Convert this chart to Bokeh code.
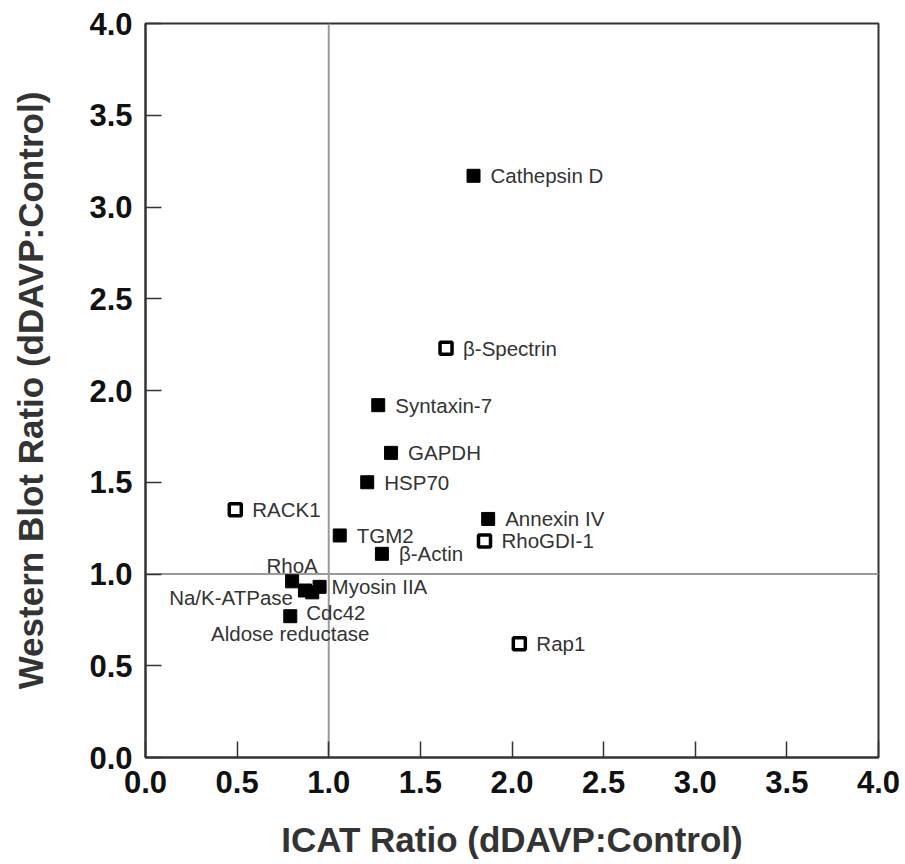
from bokeh.plotting import figure
from bokeh.models import ColumnDataSource, Range1d, FixedTicker, PrintfTickFormatter, Span
from bokeh.core.properties import value
from bokeh.embed import file_html
from bokeh.resources import INLINE

# ---- data ----
proteins = ["Cathepsin D", "β-Spectrin", "Syntaxin-7", "GAPDH", "HSP70", "RACK1",
            "TGM2", "β-Actin", "Annexin IV", "RhoGDI-1", "Rap1", "RhoA",
            "Na/K-ATPase", "Cdc42", "Myosin IIA", "Aldose reductase"]
icat_ratio = [1.79, 1.64, 1.27, 1.34, 1.21, 0.49,
              1.06, 1.29, 1.87, 1.85, 2.04, 0.80,
              0.87, 0.91, 0.95, 0.79]
western_ratio = [3.17, 2.23, 1.92, 1.66, 1.50, 1.35,
                 1.21, 1.11, 1.30, 1.18, 0.62, 0.96,
                 0.91, 0.90, 0.93, 0.77]
open_marker = [False, True, False, False, False, True,
               False, False, False, True, True, False,
               False, False, False, False]
ticks = [0.0, 0.5, 1.0, 1.5, 2.0, 2.5, 3.0, 3.5, 4.0]

# ---- label placement (screen px; dy positive = down) ----
label_place = {
    "RhoA": (0, -16, "center"),
    "Na/K-ATPase": (-12, 7, "right"),
    "Cdc42": (-6, 20, "left"),
    "Myosin IIA": (12, 0, "left"),
    "Aldose reductase": (0, 17, "center"),
}
default_place = (17, 0, "left")

FONT = "Liberation Sans"

p = figure(width=905, height=864, output_backend="svg", toolbar_location=None,
           x_range=Range1d(0, 4), y_range=Range1d(0, 4),
           min_border_left=145, min_border_right=27, min_border_top=23, min_border_bottom=107)
p.outline_line_color = "#333333"
p.outline_line_width = 2
p.xgrid.visible = False
p.ygrid.visible = False
p.background_fill_color = "white"
p.border_fill_color = "white"

for ax in (p.xaxis[0], p.yaxis[0]):
    ax.ticker = FixedTicker(ticks=ticks)
    ax.formatter = PrintfTickFormatter(format="%.1f")
    ax.major_tick_in = 16
    ax.major_tick_out = 0
    ax.minor_tick_in = 0
    ax.minor_tick_out = 0
    ax.axis_line_color = "#333333"
    ax.axis_line_width = 2
    ax.major_tick_line_color = "#333333"
    ax.major_tick_line_width = 1.5
    ax.major_label_text_font = FONT
    ax.major_label_text_font_style = "bold"
    ax.major_label_text_font_size = "31px"
    ax.major_label_text_color = "#111111"
    ax.axis_label_text_font = FONT
    ax.axis_label_text_font_style = "bold"
    ax.axis_label_text_font_size = "35px"
    ax.axis_label_text_color = "#333333"

p.xaxis.axis_label = "ICAT Ratio (dDAVP:Control)"
p.yaxis.axis_label = "Western Blot Ratio (dDAVP:Control)"
p.xaxis.major_label_standoff = 13
p.yaxis.major_label_standoff = 13
p.xaxis.axis_label_standoff = 24
p.yaxis.axis_label_standoff = 36

p.add_layout(Span(location=1, dimension="height", line_color="#9a9a9a", line_width=2, level="underlay"))
p.add_layout(Span(location=1, dimension="width", line_color="#9a9a9a", line_width=2, level="underlay"))

filled = ColumnDataSource(dict(
    x=[x for x, o in zip(icat_ratio, open_marker) if not o],
    y=[y for y, o in zip(western_ratio, open_marker) if not o]))
hollow = ColumnDataSource(dict(
    x=[x for x, o in zip(icat_ratio, open_marker) if o],
    y=[y for y, o in zip(western_ratio, open_marker) if o]))

p.scatter("x", "y", source=filled, marker="square", size=13,
          fill_color="black", line_color="black", line_width=1)
p.scatter("x", "y", source=hollow, marker="square", size=12,
          fill_color="white", line_color="black", line_width=3.5)

places = [label_place.get(n, default_place) for n in proteins]
labels = ColumnDataSource(dict(
    x=icat_ratio, y=western_ratio, text=proteins,
    dx=[pl[0] for pl in places], dy=[pl[1] for pl in places],
    align=[pl[2] for pl in places]))
p.text("x", "y", text="text", source=labels, x_offset="dx", y_offset="dy",
       text_align="align", text_baseline="middle",
       text_font=value(FONT), text_font_size="20.5px", text_color="#333333")

open("out.html", "w").write(file_html(p, INLINE))
